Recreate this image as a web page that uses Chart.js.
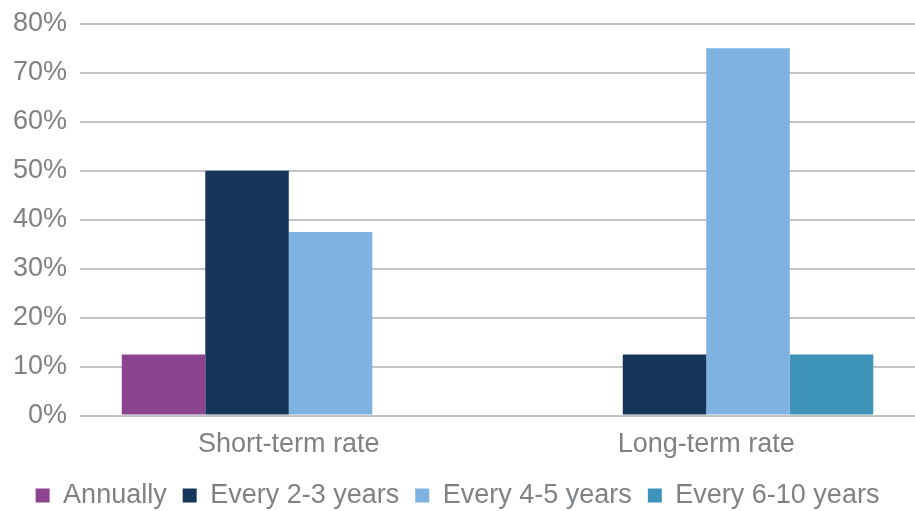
<!DOCTYPE html>
<html>
<head>
<meta charset="utf-8">
<script src="https://cdn.jsdelivr.net/npm/chart.js@4"></script>
<style>
  html, body { margin: 0; padding: 0; background: #fff; }
  #wrap { width: 915px; height: 511px; }
</style>
</head>
<body>
<div id="wrap"><canvas id="chart"></canvas></div>
<script>
var categories = ['Short-term rate', 'Long-term rate'];
var seriesNames = ['Annually', 'Every 2-3 years', 'Every 4-5 years', 'Every 6-10 years'];
var annually = [12.5, 0];
var every23 = [50, 12.5];
var every45 = [37.5, 75];
var every610 = [0, 12.5];
var yTicks = [0, 10, 20, 30, 40, 50, 60, 70, 80];

var colors = ['#8c4490', '#15355a', '#7db2e1', '#3e93b8'];
var seriesValues = [annually, every23, every45, every610];

var datasets = [];
for (var i = 0; i < seriesNames.length; i++) {
  datasets.push({
    label: seriesNames[i],
    data: seriesValues[i],
    backgroundColor: colors[i],
    borderWidth: 0,
    categoryPercentage: 0.8,
    barPercentage: 1.0
  });
}

Chart.defaults.font.family = '"Liberation Sans", Arial, sans-serif';
Chart.defaults.color = '#7f8284';

var ctx = document.getElementById('chart').getContext('2d');
new Chart(ctx, {
  type: 'bar',
  data: { labels: categories, datasets: datasets },
  options: {
    responsive: true,
    maintainAspectRatio: false,
    animation: false,
    // negative bottom padding pushes the legend down closer to the edge
    layout: { padding: { top: 0, right: 0, left: 0, bottom: -8 } },
    scales: {
      x: {
        grid: { display: false },
        border: { display: false },
        ticks: { font: { size: 27 }, padding: 5, color: '#7f8284' }
      },
      y: {
        min: 0,
        max: 80,
        afterBuildTicks: function(axis) {
          axis.ticks = yTicks.map(function(v) { return { value: v }; });
        },
        grid: { color: '#c4c4c4', lineWidth: 2, drawTicks: false },
        border: { display: false },
        ticks: {
          font: { size: 27, lineHeight: 0.8 },
          padding: 13,
          color: '#7f8284',
          callback: function(v) { return v + '%'; }
        }
      }
    },
    plugins: {
      legend: {
        position: 'bottom',
        labels: {
          boxWidth: 14,
          boxHeight: 14,
          padding: 16,
          font: { size: 27 },
          color: '#7f8284'
        }
      },
      tooltip: { enabled: false }
    }
  }
});
</script>
</body>
</html>
